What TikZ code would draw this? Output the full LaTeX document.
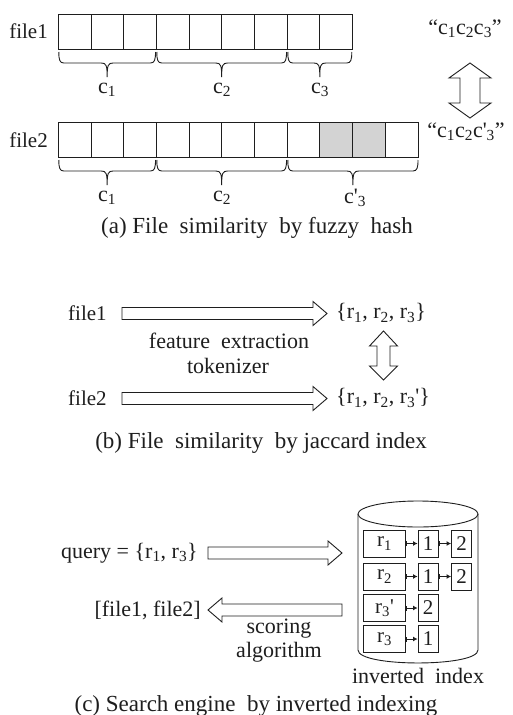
\documentclass[tikz,border=0pt]{standalone}
\usepackage{fontspec}
\setmainfont{Liberation Serif}
\usetikzlibrary{arrows.meta,shapes.geometric}
\definecolor{cellgray}{RGB}{211,211,211}
\definecolor{ink}{RGB}{30,30,30}
\tikzset{
  txt/.style={font=\fontsize{22}{24}\selectfont, inner sep=0pt, text=ink},
  lbl/.style={font=\fontsize{21}{23}\selectfont, inner sep=0pt, text=ink},
  captxt/.style={font=\fontsize{23}{25}\selectfont, inner sep=0pt, text=ink},
  cell/.style={draw=ink, line width=0.9pt, minimum width=32.7pt, minimum height=35pt, inner sep=0pt},
  brc/.style={draw=ink, line width=0.9pt},
  blk/.style={draw=ink, line width=0.9pt, fill=white, line join=miter},
  ibox/.style={draw=ink, line width=0.9pt, minimum height=27pt, inner sep=0pt, font=\fontsize{21}{23}\selectfont, text=ink},
  link/.style={draw=ink, line width=0.9pt, {Bar[width=5pt]-Latex[length=4.5pt,width=5pt]}, shorten <=0.5pt}
}
\begin{document}
\begin{tikzpicture}[x=1pt,y=-1pt]
\useasboundingbox (0,0) rectangle (512,715);
\fill[white] (0,0) rectangle (512,715);

% ---------- (a) ----------
\foreach \i in {0,...,8}
  \node[cell] (fa\i) at (74.65+32.7*\i, 31.5) {};
\foreach \i/\c in {0/white,1/white,2/white,3/white,4/white,5/white,6/white,7/white,8/cellgray,9/cellgray,10/white}
  \node[cell, fill=\c] (fb\i) at (74.65+32.7*\i, 140.2) {};

\node[lbl, anchor=east] (lf1) at (48,31) {file1};
\node[lbl, anchor=east] (lf2) at (48,140) {file2};

\foreach \a/\b/\t in {58.8/155.5/52, 156.8/286.5/52, 287.8/351.8/52, 58.8/155.5/160, 156.8/286.5/160, 287.8/418/160}{
  \pgfmathsetmacro\m{(\a+\b)/2}
  \draw[brc] (\a,\t) .. controls (\a,\t+8) and (\a+1,\t+11) .. (\a+5,\t+11)
     -- (\m-6,\t+11) .. controls (\m-1,\t+11) and (\m,\t+13) .. (\m,\t+25)
     .. controls (\m,\t+13) and (\m+1,\t+11) .. (\m+6,\t+11)
     -- (\b-5,\t+11) .. controls (\b-1,\t+11) and (\b,\t+8) .. (\b,\t);
}
\node[txt] (ca1) at (107,90) {c\textsubscript{1}};
\node[txt] (ca2) at (222,90) {c\textsubscript{2}};
\node[txt] (ca3) at (320,90) {c\textsubscript{3}};
\node[txt] (cb1) at (107,198) {c\textsubscript{1}};
\node[txt] (cb2) at (222,198) {c\textsubscript{2}};
\node[txt] (cb3) at (355,198) {c\textquotesingle\textsubscript{3}};

\node[txt] (q1) at (465,29) {``c\textsubscript{1}c\textsubscript{2}c\textsubscript{3}''};
\node[txt] (q2) at (466,132) {``c\textsubscript{1}c\textsubscript{2}c\textquotesingle\textsubscript{3}''};

% vertical double arrow (a)
\draw[blk] (470,63) -- (491,78) -- (480,78) -- (480,103) -- (491,103) -- (470,118)
  -- (449,103) -- (460,103) -- (460,78) -- (449,78) -- cycle;

\node[captxt] (capa) at (257,228) {(a) File\ \ similarity\ \ by fuzzy\ \ hash};

% ---------- (b) ----------
\node[lbl, anchor=west] (bf1) at (68,313) {file1};
\node[lbl, anchor=west] (bf2) at (68,398) {file2};
\node[txt, anchor=west] (bs1) at (336,313) {\{r\textsubscript{1}, r\textsubscript{2}, r\textsubscript{3}\}};
\node[txt, anchor=west] (bs2) at (336,398) {\{r\textsubscript{1}, r\textsubscript{2}, r\textsubscript{3}\textquotesingle\}};

\draw[blk] (122,307.5) -- (313,307.5) -- (313,301.5) -- (327,313.5) -- (313,325.5) -- (313,319.5) -- (122,319.5) -- cycle;
\draw[blk] (122,392.5) -- (313,392.5) -- (313,386.5) -- (327,398.5) -- (313,410.5) -- (313,404.5) -- (122,404.5) -- cycle;

\node[txt] (fe) at (229,341) {feature\ \ extraction};
\node[txt] (tk) at (228,366) {tokenizer};

\draw[blk] (383.5,331) -- (397.5,346) -- (390,346) -- (390,366) -- (397.5,366) -- (383.5,380)
  -- (369.5,366) -- (377,366) -- (377,346) -- (369.5,346) -- cycle;

\node[captxt] (capb) at (261,443) {(b) File\ \ similarity\ \ by jaccard index};

% ---------- (c) ----------
% cylinder
\draw[ink, line width=0.9pt] (358,514) -- (358,650)
  .. controls (358,667.3) and (478,667.3) .. (478,650) -- (478,514);
\node[draw=ink, line width=0.9pt, ellipse, minimum width=120pt, minimum height=26pt, inner sep=0pt] (ctop) at (418,514) {};

\node[ibox, minimum width=42pt] (r1) at (384.5,543.5) {r\textsubscript{1}};
\node[ibox, minimum width=42pt] (r2) at (384.5,576.5) {r\textsubscript{2}};
\node[ibox, minimum width=42pt] (r3p) at (384.5,608) {r\textsubscript{3}\textquotesingle};
\node[ibox, minimum width=42pt] (r3) at (384.5,639) {r\textsubscript{3}};
\node[ibox, minimum width=20pt] (n11) at (428,543.5) {1};
\node[ibox, minimum width=20pt] (n12) at (461.5,543.5) {2};
\node[ibox, minimum width=20pt] (n21) at (428,576.5) {1};
\node[ibox, minimum width=20pt] (n22) at (461.5,576.5) {2};
\node[ibox, minimum width=20pt] (n32) at (428,608) {2};
\node[ibox, minimum width=20pt] (n41) at (428,639) {1};
\draw[link] (r1.east) -- (n11.west);
\draw[link] (n11.east) -- (n12.west);
\draw[link] (r2.east) -- (n21.west);
\draw[link] (n21.east) -- (n22.west);
\draw[link] (r3p.east) -- (n32.west);
\draw[link] (r3.east) -- (n41.west);

\node[txt, anchor=east] (qry) at (198,553) {query = \{r\textsubscript{1}, r\textsubscript{3}\}};
\node[txt, anchor=east] (res) at (201,610) {[file1, file2]};

\draw[blk] (208,547) -- (328,547) -- (328,541) -- (342,553) -- (328,565) -- (328,559) -- (208,559) -- cycle;
\draw[blk] (342,604) -- (222,604) -- (222,598) -- (208,610) -- (222,622) -- (222,616) -- (342,616) -- cycle;

\node[txt] (sc) at (279,629) {scoring};
\node[txt] (al) at (279,652) {algorithm};
\node[txt] (ii) at (418,676) {inverted\ \ index};

\node[captxt] (capc) at (256,706) {(c) Search engine\ \ by inverted indexing};
\end{tikzpicture}
\end{document}
